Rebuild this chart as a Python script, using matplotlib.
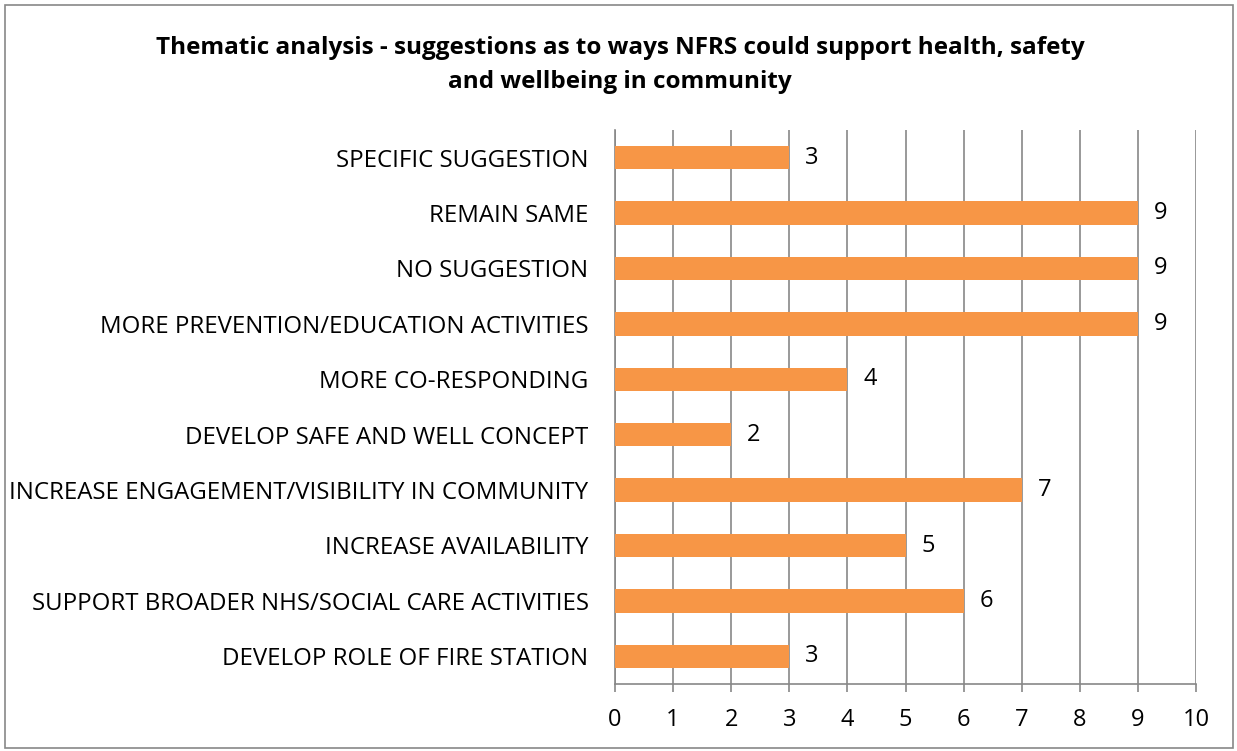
import matplotlib
matplotlib.use("Agg")
import matplotlib.pyplot as plt
from matplotlib.patches import Rectangle

categories = [
    "DEVELOP ROLE OF FIRE STATION",
    "SUPPORT BROADER NHS/SOCIAL CARE ACTIVITIES",
    "INCREASE AVAILABILITY",
    "INCREASE ENGAGEMENT/VISIBILITY IN COMMUNITY",
    "DEVELOP SAFE AND WELL CONCEPT",
    "MORE CO-RESPONDING",
    "MORE PREVENTION/EDUCATION ACTIVITIES",
    "NO SUGGESTION",
    "REMAIN SAME",
    "SPECIFIC SUGGESTION",
]
counts = [3, 6, 5, 7, 2, 4, 9, 9, 9, 3]
title = ("Thematic analysis - suggestions as to ways NFRS could support health, safety\n"
         "and wellbeing in community")

plt.rcParams["font.family"] = ["Open Sans", "DejaVu Sans"]

fig = plt.figure(figsize=(12.37, 7.51), dpi=100)
ax = fig.add_axes([615 / 1237, 1 - 684 / 751, (1196 - 615) / 1237, (684 - 130) / 751])

y = list(range(len(categories)))
ax.barh(y, counts, height=0.42, color="#F79646", zorder=3)
for yi, v in zip(y, counts):
    ax.text(v + 0.27, yi, str(v), va="center", ha="left", fontsize=17, color="black")

ax.set_xlim(0, 10)
ax.set_ylim(-0.5, len(categories) - 0.5)
ax.set_xticks(range(0, 11))
ax.set_yticks(y)
ax.set_yticklabels(categories, fontsize=17.3)
ax.tick_params(axis="x", labelsize=17, length=6, color="#878787", pad=11, width=1.2)
ax.tick_params(axis="y", length=0, pad=19)
ax.grid(axis="x", color="#878787", lw=1.2, zorder=0)
for s in ["top", "right"]:
    ax.spines[s].set_visible(False)
ax.spines["left"].set_color("#878787")
ax.spines["left"].set_linewidth(1.2)
ax.spines["bottom"].set_color("#878787")
ax.spines["bottom"].set_linewidth(1.2)

fig.text(620 / 1237, 1 - 65 / 751, title, ha="center", va="center",
         fontsize=17.5, fontweight="bold", linespacing=1.6)

fig.patches.append(Rectangle((5 / 1237, 3 / 751), 1228 / 1237, 743 / 751,
                             transform=fig.transFigure, fill=False,
                             edgecolor="#878787", lw=1.2))

fig.savefig("out.png", dpi=100)
